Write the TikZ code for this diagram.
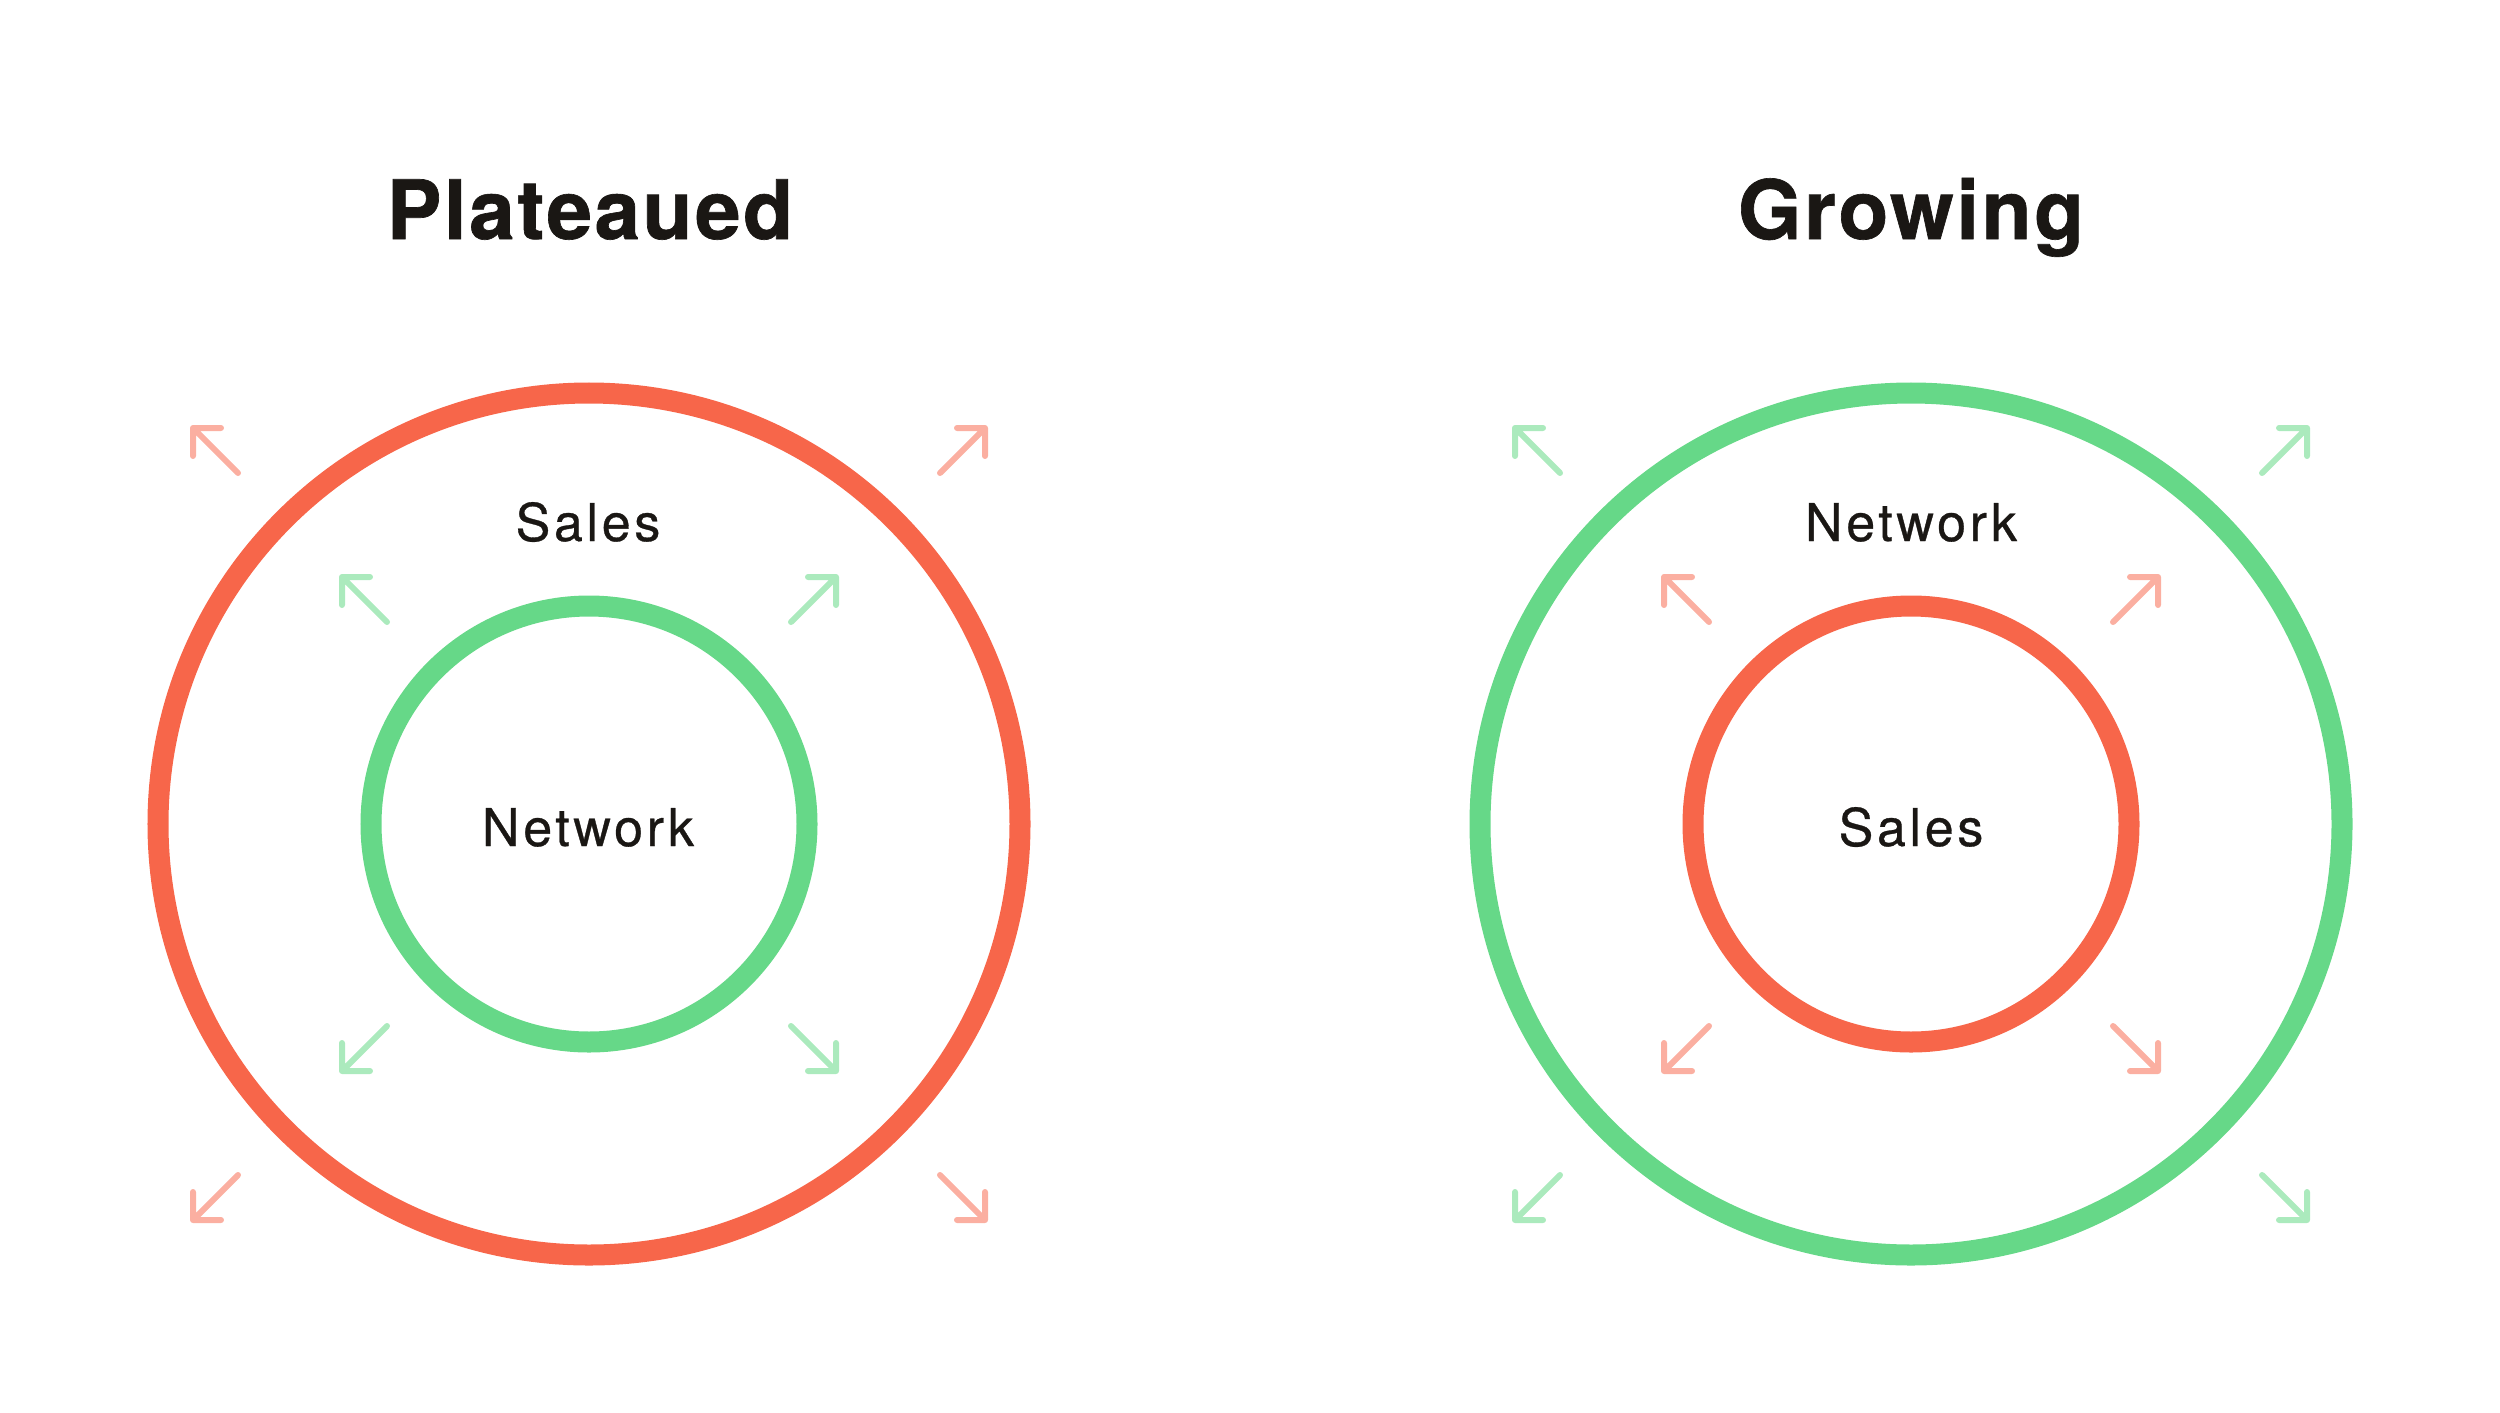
\documentclass[tikz,border=0pt]{standalone}
\usepackage{fontspec}
\setmainfont{TeX Gyre Heros}
\usetikzlibrary{positioning}
\definecolor{salesred}{RGB}{247,102,74}
\definecolor{netgreen}{RGB}{102,216,136}
\definecolor{inkblack}{RGB}{26,23,20}
\colorlet{salespale}{salesred!52!white}
\colorlet{netpale}{netgreen!55!white}
\tikzset{
  ring/.style={line width=0.21cm},
  spread/.style={line width=0.06cm,line cap=round,line join=round},
  headline/.style={font=\fontsize{23.3}{28}\selectfont\bfseries\addfontfeature{LetterSpace=3,FakeBold=0.8},text=inkblack,anchor=base,inner sep=0pt},
  lab/.style={font=\fontsize{14.8}{17}\selectfont\addfontfeature{LetterSpace=7,FakeBold=0.6},text=inkblack,anchor=base,inner sep=0pt}
}

\begin{document}
\begin{tikzpicture}[x=0.01cm,y=-0.01cm]
    \useasboundingbox (0,0) rectangle (2500,1412);
    \coordinate (pl) at (589,824);
    \coordinate (gr) at (1911,824);
    \node[headline] (plhead) at (590,239) {Plateaued};
    \node[headline] (grhead) at (1911,239) {Growing};
    \draw[ring,salesred] (pl) circle[radius=431];
    \draw[ring,netgreen] (pl) circle[radius=218];
    \draw[ring,netgreen] (gr) circle[radius=431];
    \draw[ring,salesred] (gr) circle[radius=218];
    \node[lab] (plsales) at (588,541) {Sales};
    \node[lab] (plnet) at (588,846) {Network};
    \node[lab] (grnet) at (1911,541) {Network};
    \node[lab] (grsales) at (1911,846) {Sales};
    \foreach \sx/\sy in {-1/-1,1/-1,-1/1,1/1}{
      \draw[spread,salespale,shift={(pl)}] (\sx*351,\sy*351) -- (\sx*396,\sy*396)
        (\sx*368,\sy*396) -- (\sx*396,\sy*396) -- (\sx*396,\sy*368);
      \draw[spread,netpale,shift={(pl)}] (\sx*202,\sy*202) -- (\sx*247,\sy*247)
        (\sx*219,\sy*247) -- (\sx*247,\sy*247) -- (\sx*247,\sy*219);
      \draw[spread,netpale,shift={(gr)}] (\sx*351,\sy*351) -- (\sx*396,\sy*396)
        (\sx*368,\sy*396) -- (\sx*396,\sy*396) -- (\sx*396,\sy*368);
      \draw[spread,salespale,shift={(gr)}] (\sx*202,\sy*202) -- (\sx*247,\sy*247)
        (\sx*219,\sy*247) -- (\sx*247,\sy*247) -- (\sx*247,\sy*219);
    }
\end{tikzpicture}
\end{document}
